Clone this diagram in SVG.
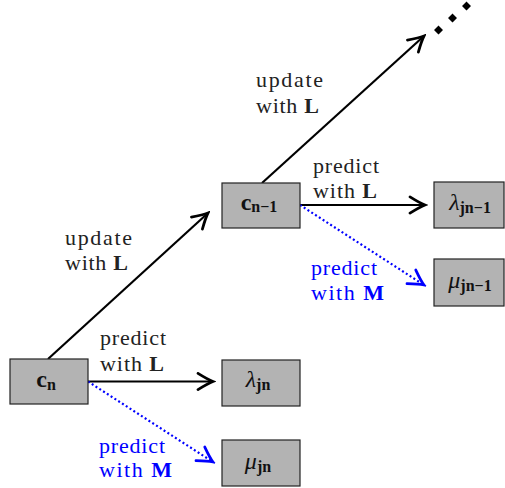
<svg xmlns="http://www.w3.org/2000/svg" width="505" height="488" viewBox="0 0 505 488">
<style>
.box{fill:#b3b3b3;stroke:#222;stroke-width:1.2}
.lbl{font-family:"Liberation Serif","DejaVu Serif",serif;font-size:22px;fill:#222}
.blue{fill:#0000ff}
.nd{font-family:"Liberation Serif","DejaVu Serif",serif;fill:#111;text-anchor:middle;font-size:24px}
.b{font-weight:bold}
.sub{font-size:16px;font-weight:bold}
.blk{stroke:#000;stroke-width:2.2;fill:none}
.dot{stroke:#0000ff;stroke-width:2.2;fill:none;stroke-dasharray:2 2.5}
</style>
<defs>
<marker id="ab" markerUnits="userSpaceOnUse" markerWidth="20" markerHeight="20" viewBox="-14 -8 16 16" refX="0" refY="0" orient="auto">
<path d="M -12 -6.5 Q -4 -1.5 0 0 Q -4 1.5 -12 6.5" fill="none" stroke="#000" stroke-width="2.2" stroke-linecap="round"/>
</marker>
<marker id="abb" markerUnits="userSpaceOnUse" markerWidth="20" markerHeight="20" viewBox="-14 -8 16 16" refX="0" refY="0" orient="auto">
<path d="M -12 -6.5 Q -4 -1.5 0 0 Q -4 1.5 -12 6.5" fill="none" stroke="#0000ff" stroke-width="2.2" stroke-linecap="round"/>
</marker>
</defs>
<g id="connectors">
<line class="blk" x1="48" y1="359" x2="208" y2="213" marker-end="url(#ab)"/>
<line class="blk" x1="262" y1="183" x2="424" y2="36" marker-end="url(#ab)"/>
<line class="blk" x1="88" y1="381.5" x2="213" y2="381.5" marker-end="url(#ab)"/>
<line class="dot" x1="88" y1="381.5" x2="213" y2="462" marker-end="url(#abb)"/>
<line class="blk" x1="300" y1="205" x2="425" y2="205" marker-end="url(#ab)"/>
<line class="dot" x1="300" y1="205" x2="424" y2="285" marker-end="url(#abb)"/>
</g>
<g id="ellipsis">
<path d="M438.5 25.5 L443 30 L438.5 34.5 L434 30 Z M452.5 13.5 L457 18 L452.5 22.5 L448 18 Z M466.5 1.5 L471 6 L466.5 10.5 L462 6 Z" fill="#000"/>
</g>
<g id="labels">
<text class="lbl" x="65" y="245" textLength="67" lengthAdjust="spacing">update</text>
<text class="lbl" x="65" y="270" textLength="63" lengthAdjust="spacing">with <tspan class="b">L</tspan></text>
<text class="lbl" x="256" y="87" textLength="67" lengthAdjust="spacing">update</text>
<text class="lbl" x="256" y="113" textLength="63" lengthAdjust="spacing">with <tspan class="b">L</tspan></text>
<text class="lbl" x="100" y="345" textLength="66" lengthAdjust="spacing">predict</text>
<text class="lbl" x="100" y="371" textLength="64" lengthAdjust="spacing">with <tspan class="b">L</tspan></text>
<text class="lbl blue" x="99" y="453" textLength="66" lengthAdjust="spacing">predict</text>
<text class="lbl blue" x="99" y="477" textLength="73" lengthAdjust="spacing">with <tspan class="b">M</tspan></text>
<text class="lbl" x="313" y="173" textLength="66" lengthAdjust="spacing">predict</text>
<text class="lbl" x="313" y="198" textLength="64" lengthAdjust="spacing">with <tspan class="b">L</tspan></text>
<text class="lbl blue" x="311" y="275" textLength="66" lengthAdjust="spacing">predict</text>
<text class="lbl blue" x="311" y="300" textLength="73" lengthAdjust="spacing">with <tspan class="b">M</tspan></text>
</g>
<g id="node-cn">
<rect class="box" x="10" y="359" width="78" height="45"/>
<text class="nd" x="46" y="387"><tspan class="b">c</tspan><tspan class="sub" dy="3">n</tspan></text>
</g>
<g id="node-lambda-jn">
<rect class="box" x="222" y="360" width="78" height="46"/>
<text class="nd" x="258" y="387"><tspan font-style="italic">λ</tspan><tspan class="sub" dy="3">jn</tspan></text>
</g>
<g id="node-mu-jn">
<rect class="box" x="222" y="440" width="78" height="46"/>
<text class="nd" x="258" y="469"><tspan font-style="italic">μ</tspan><tspan class="sub" dy="3">jn</tspan></text>
</g>
<g id="node-cn-1">
<rect class="box" x="222" y="183" width="78" height="45"/>
<text class="nd" x="259" y="210"><tspan class="b">c</tspan><tspan class="sub" dy="2">n−1</tspan></text>
</g>
<g id="node-lambda-jn-1">
<rect class="box" x="434" y="182" width="70" height="46"/>
<text class="nd" x="470" y="210"><tspan font-style="italic">λ</tspan><tspan class="sub" dy="3">jn−1</tspan></text>
</g>
<g id="node-mu-jn-1">
<rect class="box" x="434" y="259" width="70" height="47"/>
<text class="nd" x="470" y="288"><tspan font-style="italic">μ</tspan><tspan class="sub" dy="3">jn−1</tspan></text>
</g>
</svg>
